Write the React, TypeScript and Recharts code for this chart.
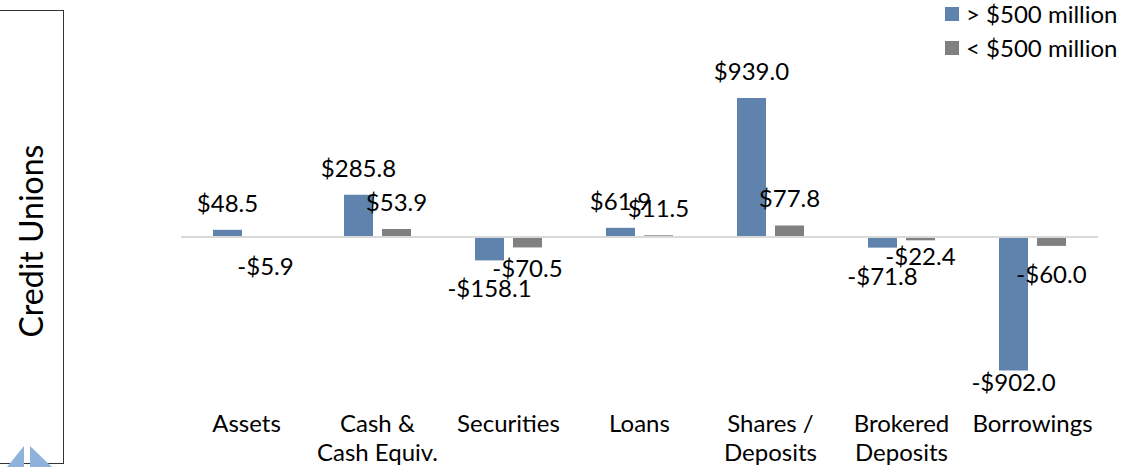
import { BarChart, Bar, XAxis, YAxis, ReferenceLine, LabelList } from "recharts";

// ---------------------------------------------------------------------------
// Data
// ---------------------------------------------------------------------------

const categories = [
  "Assets",
  "Cash &\nCash Equiv.",
  "Securities",
  "Loans",
  "Shares /\nDeposits",
  "Brokered\nDeposits",
  "Borrowings",
];

const over500 = [48.5, 285.8, -158.1, 61.9, 939.0, -71.8, -902.0];
const under500 = [-5.9, 53.9, -70.5, 11.5, 77.8, -22.4, -60.0];

const seriesNames = ["> $500 million", "< $500 million"];

const BLUE = "#5f83ac";
const GRAY = "#808080";
const FONT = "Lato, 'Open Sans', sans-serif";

const data = categories.map((c, i) => ({
  name: c,
  large: over500[i],
  small: under500[i],
}));

// plot area bounds (px) and value domain
const PLOT_TOP = 89;
const PLOT_BOTTOM = 385;
const DOMAIN = 1000;
const ZERO_Y = (PLOT_TOP + PLOT_BOTTOM) / 2;
const PX_PER_UNIT = (PLOT_BOTTOM - PLOT_TOP) / (2 * DOMAIN);

const fmt = (v: number) =>
  v < 0 ? `-$${Math.abs(v).toFixed(1)}` : `$${v.toFixed(1)}`;

// where the "> $500 million" label of a negative bar sits
const bigNegLabelY = (v: number) =>
  Math.min(ZERO_Y + Math.abs(v) * PX_PER_UNIT + 29, PLOT_BOTTOM - 2);

// Excel style "outside end" label, kept inside the plot area
function ValueLabel(props: any) {
  const { x, y, width, height, value, index, series } = props;
  const top = Math.min(y, y + height);
  const bottom = Math.max(y, y + height);
  let cy = value >= 0 ? top - 26 : bottom + 29;
  cy = Math.min(cy, PLOT_BOTTOM - 2);
  // keep the small-bank label clear of the large-bank one below it
  if (series === "small" && value < 0 && over500[index] < 0) {
    const other = bigNegLabelY(over500[index]);
    if (Math.abs(other - cy) < 20) cy = other - 20;
  }
  return (
    <text
      x={x + width / 2}
      y={cy + 8}
      textAnchor="middle"
      fontSize={24}
      fontFamily={FONT}
      fill="#000"
    >
      {fmt(value)}
    </text>
  );
}

function CategoryTick(props: any) {
  const { x, payload } = props;
  const lines = String(payload.value).split("\n");
  return (
    <text textAnchor="middle" fontSize={24} fontFamily={FONT} fill="#000">
      {lines.map((l, i) => (
        <tspan key={i} x={x} y={432 + i * 29}>
          {l}
        </tspan>
      ))}
    </text>
  );
}

function LegendBox() {
  const colors = [BLUE, GRAY];
  return (
    <div style={{ fontFamily: FONT, fontSize: 24, color: "#000" }}>
      {seriesNames.map((n, i) => (
        <div
          key={n}
          style={{ display: "flex", alignItems: "center", height: 34, lineHeight: "24px", whiteSpace: "nowrap" }}
        >
          <span
            style={{ width: 14, height: 14, background: colors[i], marginRight: 7, display: "inline-block" }}
          />
          <span>{n}</span>
        </div>
      ))}
    </div>
  );
}

// ---------------------------------------------------------------------------
// Component
// ---------------------------------------------------------------------------

export default function App() {
  return (
    <div style={{ position: "relative", width: 1132, height: 467, background: "#fff", overflow: "hidden" }}>
      <style>{"body{margin:0}"}</style>

      {/* side panel */}
      <div
        style={{
          position: "absolute",
          left: -2,
          top: 10,
          width: 64,
          height: 452,
          border: "1.5px solid #333",
        }}
      />
      <svg width={70} height={467} style={{ position: "absolute", left: 0, top: 0 }}>
        <text
          transform="translate(43,241) rotate(-90)"
          textAnchor="middle"
          fontSize={32}
          fontFamily={FONT}
          fill="#000"
        >
          Credit Unions
        </text>
        <polygon points="7,467 24,446 24,467" fill="#8fb2da" />
        <polygon points="30,446 30,467 52,467" fill="#8fb2da" />
      </svg>

      <div style={{ position: "absolute", left: 945, top: -3 }}>
        <LegendBox />
      </div>

      <div style={{ position: "absolute", left: 0, top: 0 }}>
        <BarChart
          width={1132}
          height={467}
          data={data}
          margin={{ top: PLOT_TOP, right: 34, bottom: 22, left: 181 }}
          barSize={29}
          barGap={9}
        >
          <XAxis
            dataKey="name"
            axisLine={false}
            tickLine={false}
            height={60}
            interval={0}
            tick={<CategoryTick />}
          />
          <YAxis hide width={0} domain={[-DOMAIN, DOMAIN]} />
          <ReferenceLine y={0} stroke="#d9d9d9" strokeWidth={2} />
          <Bar dataKey="large" name={seriesNames[0]} fill={BLUE} isAnimationActive={false}>
            <LabelList dataKey="large" content={<ValueLabel series="large" />} />
          </Bar>
          <Bar dataKey="small" name={seriesNames[1]} fill={GRAY} isAnimationActive={false}>
            <LabelList dataKey="small" content={<ValueLabel series="small" />} />
          </Bar>
        </BarChart>
      </div>
    </div>
  );
}
